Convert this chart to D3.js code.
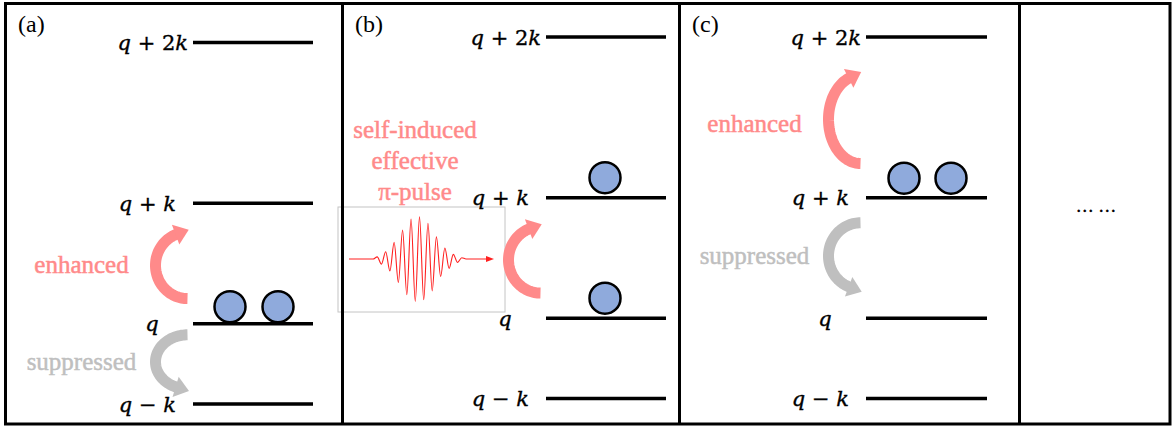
<!DOCTYPE html>
<html>
<head>
<meta charset="utf-8">
<script src="https://cdn.jsdelivr.net/npm/d3@7"></script>
<style>
  html, body { margin: 0; padding: 0; background: #fff; }
  svg { display: block; }
  text { white-space: pre; }
</style>
</head>
<body>
<svg id="chart" width="1172" height="431"></svg>
<script>
// ---------------- data ----------------
const panels = ["(a)", "(b)", "(c)"];
const levelLabels = ["q − k", "q", "q + k", "q + 2k"];
// relative level energies (q + n k)^2 with q = 2.5 k
const levelEnergy = [2.25, 6.25, 12.25, 20.25];
// number of particles on each level, per panel
const occupancyA = [0, 2, 0, 0];
const occupancyB = [0, 1, 1, 0];
const occupancyC = [0, 0, 2, 0];
// transitions: panel index, from level, to level, kind
const transPanel = [0, 0, 1, 2, 2];
const transFrom  = [1, 1, 1, 2, 2];
const transTo    = [2, 0, 2, 3, 1];
const transKind  = ["enhanced", "suppressed", "pulse", "enhanced", "suppressed"];
const pulseText = ["self-induced", "effective", "π-pulse"];
// wave packet extrema (normalized amplitude, up positive)
const waveAmp = [0, 0.05, -0.12, 0.17, -0.28, 0.39, -0.55, 0.68, -0.84, 0.94, -1.0, 0.99,
                 -0.96, 0.84, -0.75, 0.52, -0.41, 0.26, -0.22, 0.11, -0.08, 0.03, 0];
const ellipsisText = "… …";

// ---------------- layout ----------------
const W = 1172, H = 431;
const PINK = "#ff8a8a", GRAY = "#bfbfbf", BLUE = "#8faadc";
const layout = [
  { left: 5,   lineX: [193, 313], yRange: [404, 42.5], circDx: [37, 85], circDy: 17 },
  { left: 342, lineX: [546, 666], yRange: [398.5, 37], circDx: [59],     circDy: 20 },
  { left: 679, lineX: [866, 987], yRange: [398.5, 37], circDx: [38, 85], circDy: 19.5 }
];
const occupancy = [occupancyA, occupancyB, occupancyC];

const svg = d3.select("#chart");
svg.append("rect").attr("width", W).attr("height", H).attr("fill", "#fff");

const g = svg.append("g");

const yScales = layout.map(L => d3.scaleLinear()
  .domain([levelEnergy[0], levelEnergy[levelEnergy.length - 1]])
  .range(L.yRange));

// ----- wave packet in panel (b) -----
const waveCy = 259;
g.append("rect").attr("x", 338).attr("y", 207).attr("width", 167).attr("height", 105)
  .attr("fill", "none").attr("stroke", "#c4c4c4").attr("stroke-width", 1);
const wx = d3.scaleLinear().domain([0, waveAmp.length - 1]).range([373, 466]);
const wy = d3.scaleLinear().domain([-1, 1]).range([waveCy + 42.5, waveCy - 42.5]);
const wavePts = [[349, waveCy]].concat(waveAmp.map((a, i) => [wx(i), wy(a)])).concat([[489, waveCy]]);
g.append("path")
  .attr("d", d3.line().curve(d3.curveMonotoneX)(wavePts))
  .attr("fill", "none").attr("stroke", "#ff2020").attr("stroke-width", 1.1);
g.append("path").attr("d", `M486,${waveCy - 3} L494,${waveCy} L486,${waveCy + 3} Z`)
  .attr("fill", "#ff2020");

// ----- frame & dividers -----
svg.append("rect").attr("x", 5.5).attr("y", 3.5).attr("width", 1164.5).attr("height", 420.5)
  .attr("fill", "none").attr("stroke", "#000").attr("stroke-width", 3);
[342.5, 679.5, 1019.5].forEach(x => {
  svg.append("line").attr("x1", x).attr("x2", x).attr("y1", 3).attr("y2", 424)
    .attr("stroke", "#000").attr("stroke-width", 3);
});

// ----- math label helper -----
function mathText(sel, label) {
  const parts = label.split(/(q|k)/).filter(s => s.length);
  parts.forEach(p => {
    sel.append("tspan").text(p)
      .attr("font-style", (p === "q" || p === "k") ? "italic" : "normal");
  });
}

// ----- panels -----
panels.forEach((name, pi) => {
  const L = layout[pi], y = yScales[pi];
  const pg = svg.append("g");
  pg.append("text").attr("x", L.left + 13).attr("y", 32)
    .attr("font-family", "Liberation Serif, Times New Roman, serif").attr("font-size", 24)
    .text(name);

  levelEnergy.forEach((e, li) => {
    const yy = y(e);
    pg.append("line").attr("x1", L.lineX[0]).attr("x2", L.lineX[1])
      .attr("y1", yy).attr("y2", yy).attr("stroke", "#000").attr("stroke-width", 3.5);
    const t = pg.append("text")
      .attr("font-family", "DejaVu Serif, serif").attr("font-size", 21)
      .attr("stroke", "#000").attr("stroke-width", 0.35);
    if (levelLabels[li] === "q") {
      t.attr("x", L.lineX[0] - 41).attr("y", yy + 7.5).attr("text-anchor", "middle");
    } else {
      const dx = levelLabels[li] === "q + 2k" ? 5 : 17;
      t.attr("x", L.lineX[0] - dx).attr("y", yy + 7.5).attr("text-anchor", "end");
    }
    mathText(t, levelLabels[li]);

    // particles
    const n = occupancy[pi][li];
    for (let c = 0; c < n; c++) {
      pg.append("circle").attr("cx", L.lineX[0] + L.circDx[c]).attr("cy", yy - L.circDy)
        .attr("r", 15.5).attr("fill", BLUE).attr("stroke", "#000").attr("stroke-width", 2.5);
    }
  });
});

// ----- curved arrows -----
function curvedArrow(cx, cy, rx, ry, a0, a1, color, bw) {
  const rad = d => d * Math.PI / 180;
  const steps = 60;
  const pts = d3.range(steps + 1).map(i => {
    const a = rad(a0 + (a1 - a0) * i / steps);
    return [cx + rx * Math.cos(a), cy + ry * Math.sin(a)];
  });
  svg.append("path").attr("d", d3.line()(pts))
    .attr("fill", "none").attr("stroke", color).attr("stroke-width", bw).attr("stroke-linecap", "butt");
  const a = rad(a1), s = Math.sign(a1 - a0);
  let tx = -rx * Math.sin(a) * s, ty = ry * Math.cos(a) * s;
  const tl = Math.hypot(tx, ty); tx /= tl; ty /= tl;
  const nx = -ty, ny = tx;
  const bx = cx + rx * Math.cos(a), by = cy + ry * Math.sin(a);
  const hw = 10.5, hl = 13;
  svg.append("path")
    .attr("d", `M${bx - tx * 1 + nx * hw},${by - ty * 1 + ny * hw} L${bx + tx * hl},${by + ty * hl} L${bx - tx * 1 - nx * hw},${by - ty * 1 - ny * hw} Z`)
    .attr("fill", color);
}

transKind.forEach((kind, i) => {
  const pi = transPanel[i], L = layout[pi], y = yScales[pi];
  const y1 = y(levelEnergy[transFrom[i]]), y2 = y(levelEnergy[transTo[i]]);
  const up = y2 < y1;
  const gap = Math.abs(y1 - y2);
  const cx = L.lineX[0] - 5.5;
  let cy = (y1 + y2) / 2 + (up ? 2 : -2);
  const ry = Math.max(27, gap * 0.275);
  const color = kind === "suppressed" ? GRAY : PINK;
  if (up) curvedArrow(cx, cy, 32, ry, 90, 250, color, 11);
  else curvedArrow(cx, cy, 32, ry, 270, 110, color, 11);

  const tg = svg.append("g").attr("font-family", "Liberation Serif, Times New Roman, serif")
    .attr("font-size", 25).attr("fill", color).attr("stroke", color).attr("stroke-width", 0.5)
    .attr("text-anchor", "middle");
  if (kind === "pulse") {
    pulseText.forEach((s, k) => tg.append("text").attr("x", 415).attr("y", 138 + k * 31).text(s));
  } else {
    const ty = kind === "enhanced" && gap > 140 ? cy + 13 : cy + 8;
    tg.append("text").attr("x", cx - 106).attr("y", ty).text(kind);
  }
});

// ----- continuation dots -----
svg.append("text").attr("x", 1096).attr("y", 212).attr("text-anchor", "middle")
  .attr("font-family", "Liberation Serif, serif").attr("font-size", 18)
  .attr("stroke", "#000").attr("stroke-width", 0.4).text(ellipsisText);
</script>
</body>
</html>
